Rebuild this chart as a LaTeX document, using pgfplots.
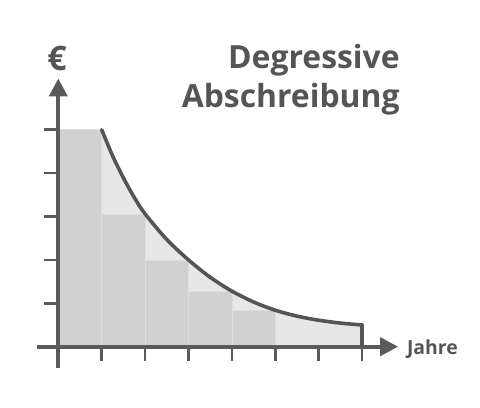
\documentclass[border=0pt]{standalone}
\usepackage{fontspec}
\setmainfont{Open Sans}
\usepackage{pgfplots}
\pgfplotsset{compat=1.18}
\usetikzlibrary{arrows.meta}
\definecolor{axc}{HTML}{5A5A5A}
\definecolor{crv}{HTML}{555555}
\definecolor{txt}{HTML}{555555}
\definecolor{lightfill}{HTML}{E7E7E7}
\definecolor{barfill}{HTML}{D1D1D1}
\definecolor{barsep}{HTML}{DEDEDE}
\begin{document}
\begin{tikzpicture}
\useasboundingbox (-58.3bp,-61.3bp) rectangle (421.7bp,346.7bp);
\begin{axis}[
  at={(0,0)}, anchor=origin,
  x=43.4bp, y=43.4bp,
  xmin=-0.48, xmax=7.83, ymin=-0.48, ymax=6.18,
  axis lines=middle,
  axis on top=true,
  clip=false,
  axis line style={line width=4bp, color=axc, -{Triangle[length=18bp,width=18bp]}},
  xtick={1,2,3,4,5,6,7}, ytick={1,2,3,4,5},
  xticklabels={}, yticklabels={},
  tick align=outside,
  major tick length=14bp,
  tick style={line width=2.6bp, color=axc},
]
% light area under the curve
\addplot[draw=none, fill=lightfill, smooth] coordinates {
  (1,5.0) (1.25,4.40) (1.5,3.89) (1.75,3.44) (2,3.06) (2.5,2.47) (3,2.0) (3.5,1.60) (4,1.28)
  (4.5,1.03) (5,0.84) (5.5,0.705) (6,0.61) (6.5,0.544) (7,0.5)
} \closedcycle;
% bars
\addplot[ybar interval, fill=barfill, draw=barsep, line width=0.7bp] coordinates {
  (0,5.0) (1,3.06) (2,2.0) (3,1.28) (4,0.84) (5,0.84)
};
% curve
\addplot[crv, line width=3.6bp, smooth, line cap=round] coordinates {
  (1,5.0) (1.25,4.40) (1.5,3.89) (1.75,3.44) (2,3.06) (2.5,2.47) (3,2.0) (3.5,1.60) (4,1.28)
  (4.5,1.03) (5,0.84) (5.5,0.705) (6,0.61) (6.5,0.544) (7,0.5)
};
\addplot[crv, line width=3.6bp, line cap=round] coordinates {(7,0.5) (7,0)};
\node[anchor=base east, inner sep=0, text=txt, font=\bfseries\fontsize{32}{32}\selectfont] at (axis cs:7.87,6.41) {Degressive};
\node[anchor=base east, inner sep=0, text=txt, font=\bfseries\fontsize{32}{32}\selectfont] at (axis cs:7.87,5.52) {Abschreibung};
\node[anchor=center, inner sep=0, text=txt, font=\bfseries\fontsize{34}{34}\selectfont] at (axis cs:-0.03,6.65) {€};
\node[anchor=base west, inner sep=0, text=txt, font=\bfseries\fontsize{19.5}{19.5}\selectfont] at (axis cs:8.03,-0.19) {Jahre};
\end{axis}
\end{tikzpicture}
\end{document}
